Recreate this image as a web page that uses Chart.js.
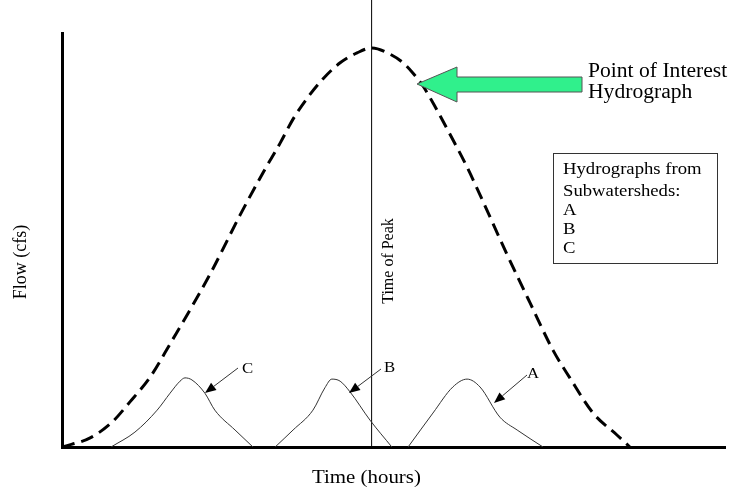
<!DOCTYPE html>
<html>
<head>
<meta charset="utf-8">
<script src="https://cdn.jsdelivr.net/npm/chart.js@4.4.1/dist/chart.umd.min.js"></script>
<style>
  html, body { margin: 0; padding: 0; background: #fff; }
  #wrap { width: 730px; height: 490px; }
</style>
</head>
<body>
<div id="wrap"><canvas id="hydroChart" width="730" height="490"></canvas></div>
<script>
// time in hours, flow in cfs (axes carry no ticks, so the units are only relative)
const poiTime = [0, 0.85, 1.51, 2.05, 2.66, 3.26, 4.47, 5.37, 6.06, 6.58, 6.97, 7.42, 7.87, 8.39, 8.90, 9.35,
                 9.89, 10.29, 10.59, 10.89, 11.31, 11.70, 12.22, 12.61, 13.42, 14.12, 14.81, 15.32, 16.02, 16.74, 17.13];
const poiFlow = [0, 2.2, 6.0, 10.9, 16.9, 24.9, 41.8, 56.0, 66.2, 73.4, 79.2, 84.5, 88.9, 92.8, 95.2, 96.4,
                 94.9, 92.8, 90.3, 87.2, 81.4, 75.6, 67.6, 60.9, 46.6, 34.8, 23.4, 16.7, 8.2, 2.9, 0];

const cTime = [1.48, 2.20, 2.87, 3.26, 3.56, 3.71, 3.92, 4.31, 4.61, 5.22, 5.76];
const cFlow = [0, 3.6, 8.9, 13.0, 15.9, 16.7, 16.2, 13.0, 8.9, 4.1, 0];

const bTime = [6.43, 6.97, 7.57, 7.93, 8.14, 8.39, 8.69, 9.29, 9.95];
const bFlow = [0, 4.1, 8.9, 14.3, 16.4, 15.9, 13.3, 6.5, 0];

const aTime = [10.44, 11.19, 11.79, 12.22, 12.61, 13.21, 13.73, 14.51];
const aFlow = [0, 8.2, 14.5, 16.4, 14.5, 7.2, 4.1, 0];

const peakTime = 9.34;
const peakLineFlow = [0, 108];

const toPoints = (xs, ys) => xs.map((x, i) => ({ x: x, y: ys[i] }));

const serif = '"Liberation Serif", "Times New Roman", serif';

const drawText = (ctx, text, x, y, size, sx) => {
    ctx.save();
    ctx.translate(x, y);
    ctx.scale(sx, 1);
    ctx.font = size + 'px ' + serif;
    ctx.fillText(text, 0, 0);
    ctx.restore();
}

const drawArrow = (ctx, x1, y1, x2, y2) => {
    const ang = Math.atan2(y2 - y1, x2 - x1);
    const len = 11, half = 4.5;
    const bx = x2 - len * Math.cos(ang), by = y2 - len * Math.sin(ang);
    ctx.beginPath();
    ctx.moveTo(x1, y1);
    ctx.lineTo(bx, by);
    ctx.strokeStyle = '#333';
    ctx.lineWidth = 1;
    ctx.stroke();
    ctx.beginPath();
    ctx.moveTo(x2, y2);
    ctx.lineTo(bx + half * Math.sin(ang), by - half * Math.cos(ang));
    ctx.lineTo(bx - half * Math.sin(ang), by + half * Math.cos(ang));
    ctx.closePath();
    ctx.fillStyle = '#000';
    ctx.fill();
}

// labels, arrows and the legend box
const annotations = {
    id: 'annotations',
    afterDatasetsDraw(chart) {
        const ctx = chart.ctx;
        ctx.save();
        ctx.fillStyle = '#000';
        ctx.textBaseline = 'alphabetic';

        // axis titles
        drawText(ctx, 'Time (hours)', 312, 483, 18, 1.16);
        ctx.save();
        ctx.translate(26, 262);
        ctx.rotate(-Math.PI / 2);
        ctx.textAlign = 'center';
        ctx.font = '18px ' + serif;
        ctx.fillText('Flow (cfs)', 0, 0);
        ctx.restore();

        // time of peak
        ctx.save();
        ctx.translate(393, 261);
        ctx.rotate(-Math.PI / 2);
        ctx.textAlign = 'center';
        ctx.font = '16px ' + serif;
        ctx.fillText('Time of Peak', 0, 0);
        ctx.restore();

        // green arrow
        ctx.beginPath();
        ctx.moveTo(417, 84);
        ctx.lineTo(457, 67);
        ctx.lineTo(457, 77);
        ctx.lineTo(582, 77);
        ctx.lineTo(582, 92);
        ctx.lineTo(457, 92);
        ctx.lineTo(457, 102);
        ctx.closePath();
        ctx.fillStyle = '#30f08c';
        ctx.fill();
        ctx.strokeStyle = '#555';
        ctx.lineWidth = 1;
        ctx.stroke();

        ctx.fillStyle = '#000';
        drawText(ctx, 'Point of Interest', 588, 77, 20, 1.08);
        drawText(ctx, 'Hydrograph', 588, 98, 20, 1.08);

        // box
        ctx.strokeStyle = '#333';
        ctx.lineWidth = 1;
        ctx.strokeRect(553.5, 153.5, 164, 110);
        drawText(ctx, 'Hydrographs from', 563, 174, 17, 1.1);
        drawText(ctx, 'Subwatersheds:', 563, 196, 17, 1.1);
        drawText(ctx, 'A', 563, 215, 17, 1.1);
        drawText(ctx, 'B', 563, 234, 17, 1.1);
        drawText(ctx, 'C', 563, 253, 17, 1.1);

        // subwatershed labels
        drawText(ctx, 'C', 242, 373, 15, 1.12);
        drawArrow(ctx, 238, 368, 205, 393);
        drawText(ctx, 'B', 384, 372, 15, 1.12);
        drawArrow(ctx, 381, 369, 349, 393);
        drawText(ctx, 'A', 527, 378, 15, 1.12);
        drawArrow(ctx, 527, 375, 494, 403);

        ctx.restore();
    }
};

const subStyle = {
    borderColor: '#333',
    borderWidth: 1,
    pointRadius: 0,
    fill: false,
    cubicInterpolationMode: 'monotone'
};

const hydroChart = new Chart(document.getElementById('hydroChart'), {
    type: 'line',
    data: {
        datasets: [{
            label: 'Point of Interest Hydrograph',
            data: toPoints(poiTime, poiFlow),
            borderColor: '#000',
            borderWidth: 3,
            borderDash: [13, 7],
            pointRadius: 0,
            fill: false,
            cubicInterpolationMode: 'monotone'
        }, Object.assign({
            label: 'C',
            data: toPoints(cTime, cFlow)
        }, subStyle), Object.assign({
            label: 'B',
            data: toPoints(bTime, bFlow)
        }, subStyle), Object.assign({
            label: 'A',
            data: toPoints(aTime, aFlow)
        }, subStyle), {
            label: 'Time of Peak',
            data: peakLineFlow.map(f => ({ x: peakTime, y: f })),
            borderColor: '#000',
            borderWidth: 1,
            pointRadius: 0,
            clip: false
        }]
    },
    options: {
        responsive: false,
        animation: false,
        layout: { padding: { left: 62, top: 33, right: 5, bottom: 43 } },
        plugins: { legend: { display: false }, tooltip: { enabled: false } },
        scales: {
            x: {
                type: 'linear',
                min: 0,
                max: 20,
                grid: { display: false, drawTicks: false },
                ticks: { display: false },
                border: { display: true, width: 3, color: '#000' }
            },
            y: {
                min: 0,
                max: 100,
                grid: { display: false, drawTicks: false },
                ticks: { display: false },
                border: { display: true, width: 3, color: '#000' }
            }
        }
    },
    plugins: [annotations]
});
</script>
</body>
</html>
